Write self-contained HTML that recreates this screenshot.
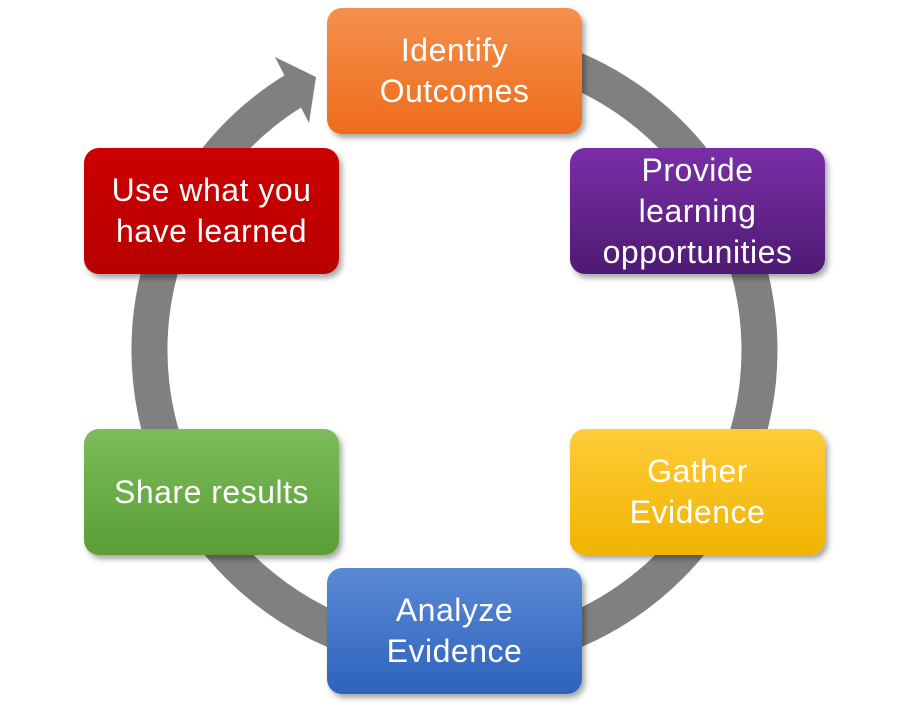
<!DOCTYPE html>
<html><head><style>
body{margin:0;width:909px;height:708px;background:#fff;position:relative;overflow:hidden;font-family:"Liberation Sans",sans-serif}
.b{position:absolute;width:255px;height:126px;border-radius:15px;color:#fff;font-size:32px;letter-spacing:0.5px;line-height:41px;display:flex;align-items:center;justify-content:center;text-align:center;box-shadow:3px 4px 6px rgba(0,0,0,.35);white-space:nowrap}
</style></head><body>
<svg width="909" height="708" style="position:absolute;left:0;top:0">
<path d="M 295 90 A 305 305 0 1 0 454 45" fill="none" stroke="#808080" stroke-width="36"/>
<polygon points="316,77 275,57 309,123" fill="#808080"/>
</svg>
<div class="b" style="left:327px;top:8px;background:linear-gradient(#f4904e,#ee6c1a)">Identify<br>Outcomes</div>
<div class="b" style="left:570px;top:148px;background:linear-gradient(#7a2ea8,#4e1a72)">Provide<br>learning<br>opportunities</div>
<div class="b" style="left:570px;top:429px;background:linear-gradient(#ffcc3a,#f0b400)">Gather<br>Evidence</div>
<div class="b" style="left:327px;top:568px;background:linear-gradient(#5a8ad6,#2e62bc)">Analyze<br>Evidence</div>
<div class="b" style="left:84px;top:429px;background:linear-gradient(#7cbc5a,#5a9e36)">Share results</div>
<div class="b" style="left:84px;top:148px;background:linear-gradient(#cc0000,#b80000)">Use what you<br>have learned</div>
</body></html>
